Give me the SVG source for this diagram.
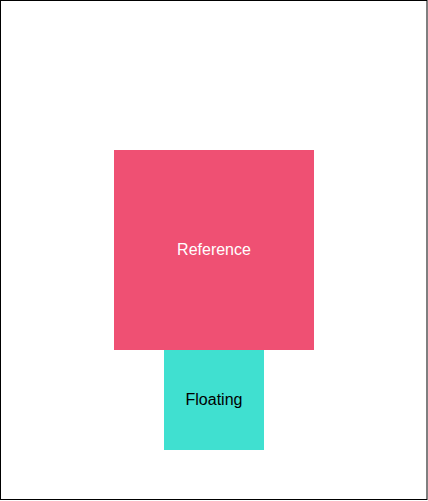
<svg xmlns="http://www.w3.org/2000/svg" width="428" height="501" viewBox="0 0 428 501">
<style>
.lbl{font-family:"Liberation Sans",Arial,sans-serif;font-size:16px;text-anchor:middle;dominant-baseline:central}
</style>
<rect x="0" y="0" width="428" height="501" fill="#ffffff"/>
<rect x="0.5" y="0.5" width="426.5" height="499" fill="none" stroke="#000000" stroke-width="1"/>
<g id="connectors"></g>
<g id="reference">
<rect x="114" y="150" width="200" height="200" fill="#EF5073"/>
<text class="lbl" x="214" y="249" fill="#ffffff">Reference</text>
</g>
<g id="floating">
<rect x="164" y="350" width="100" height="100" fill="#40E0D0"/>
<text class="lbl" x="214" y="399" fill="#000000">Floating</text>
</g>
</svg>
